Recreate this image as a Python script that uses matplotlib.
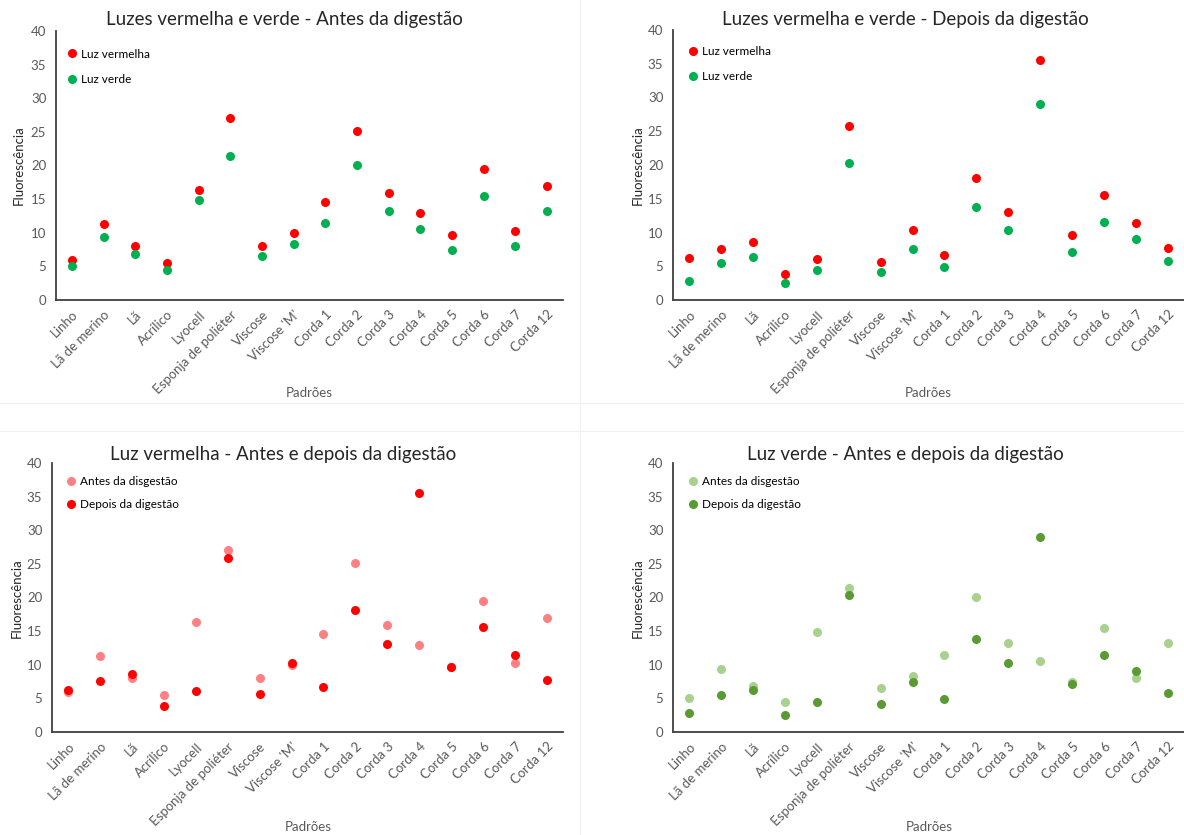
"""Fluorescência dos padrões - luzes vermelha e verde, antes e depois da digestão"""

import matplotlib
matplotlib.use('Agg')
import matplotlib.pyplot as plt
from matplotlib.lines import Line2D

plt.rcParams['font.family'] = ['Lato', 'DejaVu Sans']

# categorias (padrões)
padroes = ['Linho', 'Lã de merino', 'Lã', 'Acrílico', 'Lyocell', 'Esponja de poliéter',
           'Viscose', "Viscose 'M'", 'Corda 1', 'Corda 2', 'Corda 3', 'Corda 4',
           'Corda 5', 'Corda 6', 'Corda 7', 'Corda 12']

# antes da digestão
vermelha_antes = [5.9, 11.3, 8.1, 5.5, 16.4, 27.0, 8.1, 10.0, 14.5, 25.2, 15.9, 12.9, 9.7, 19.5, 10.2, 17.0]
verde_antes = [5.0, 9.4, 6.9, 4.5, 14.9, 21.4, 6.5, 8.4, 11.5, 20.1, 13.3, 10.6, 7.5, 15.5, 8.0, 13.3]

# depois da digestão
vermelha_depois = [6.2, 7.6, 8.6, 3.8, 6.1, 25.8, 5.6, 10.3, 6.7, 18.1, 13.1, 35.5, 9.6, 15.6, 11.4, 7.7]
verde_depois = [2.8, 5.5, 6.3, 2.5, 4.5, 20.3, 4.2, 7.5, 4.9, 13.8, 10.3, 29.0, 7.1, 11.5, 9.0, 5.8]

VERMELHO = '#FF0000'
VERDE = '#00B050'
VERMELHO_CLARO = '#FF8083'
VERDE_CLARO = '#A9D18E'
VERDE_ESCURO = '#5A9A34'
CINZA = '#595959'

W, H = 1184, 835
fig = plt.figure(figsize=(W / 100, H / 100), dpi=100)
fig.patch.set_facecolor('white')


def px_axes(left, top, right, bottom):
    """cria eixo a partir de coordenadas em pixels"""
    return fig.add_axes([left / W, 1 - bottom / H, (right - left) / W, (bottom - top) / H])


def estilo(ax, cx, ylabel_x, ylabel_y, xlabel_y):
    ax.set_xlim(-0.5, len(padroes) - 0.5)
    ax.set_ylim(0, 40)
    ax.set_yticks(range(0, 41, 5))
    ax.set_xticks(range(len(padroes)))
    ax.set_xticklabels(padroes, rotation=45, ha='right', rotation_mode='anchor',
                       fontsize=9.5, color=CINZA)
    ax.tick_params(axis='both', length=0, labelsize=9.5, labelcolor=CINZA)
    ax.tick_params(axis='x', pad=6)
    ax.tick_params(axis='y', pad=7)
    for s in ['top', 'right']:
        ax.spines[s].set_visible(False)
    for s in ['left', 'bottom']:
        ax.spines[s].set_color('#404040')
        ax.spines[s].set_linewidth(1.3)
    fig.text(ylabel_x / W, 1 - ylabel_y / H, 'Fluorescência', rotation=90,
             ha='center', va='center', fontsize=9.5, color='#262626')
    fig.text(cx / W, 1 - xlabel_y / H, 'Padrões', ha='center', va='center',
             fontsize=9.5, color=CINZA)


def legenda(ax, rotulos, cores, x0, y0, espaco):
    handles = [Line2D([], [], ls='none', marker='o', markersize=5.5, color=c) for c in cores]
    ax.legend(handles, rotulos, loc='upper left', bbox_to_anchor=(x0, y0),
              frameon=False, fontsize=8.5, handlelength=0.6, handletextpad=0.45,
              labelspacing=espaco, borderaxespad=0.4)


x = list(range(len(padroes)))
S = 30

# Luzes vermelha e verde - antes
ax1 = px_axes(56, 31, 563, 300)
ax1.scatter(x, vermelha_antes, s=S, color=VERMELHO, zorder=3)
ax1.scatter(x, verde_antes, s=S, color=VERDE, zorder=3)
estilo(ax1, 309, 19, 165, 393)
legenda(ax1, ['Luz vermelha', 'Luz verde'], [VERMELHO, VERDE], 0.006, 0.97, 1.2)
fig.text(284 / W, 1 - 20 / H, 'Luzes vermelha e verde - Antes da digestão',
         ha='center', va='center', fontsize=13.5, color='#262626')

# Luzes vermelha e verde - depois
ax2 = px_axes(673, 30, 1184, 300)
ax2.scatter(x, vermelha_depois, s=S, color=VERMELHO, zorder=3)
ax2.scatter(x, verde_depois, s=S, color=VERDE, zorder=3)
estilo(ax2, 928, 638, 165, 393)
legenda(ax2, ['Luz vermelha', 'Luz verde'], [VERMELHO, VERDE], 0.014, 0.975, 1.2)
fig.text(905 / W, 1 - 20 / H, 'Luzes vermelha e verde - Depois da digestão',
         ha='center', va='center', fontsize=13.5, color='#262626')

# Luz vermelha - antes e depois
ax3 = px_axes(52, 463, 563, 732)
ax3.scatter(x, vermelha_antes, s=S, color=VERMELHO_CLARO, zorder=3)
ax3.scatter(x, vermelha_depois, s=S, color=VERMELHO, zorder=4)
estilo(ax3, 308, 17, 598, 827)
legenda(ax3, ['Antes da disgestão', 'Depois da digestão'], [VERMELHO_CLARO, VERMELHO],
        0.012, 0.985, 1.0)
fig.text(283 / W, 1 - 454 / H, 'Luz vermelha - Antes e depois da digestão',
         ha='center', va='center', fontsize=13.5, color='#262626')

# Luz verde - antes e depois
ax4 = px_axes(673, 463, 1184, 732)
ax4.scatter(x, verde_antes, s=S, color=VERDE_CLARO, zorder=3)
ax4.scatter(x, verde_depois, s=S, color=VERDE_ESCURO, zorder=4)
estilo(ax4, 929, 638, 598, 827)
legenda(ax4, ['Antes da disgestão', 'Depois da digestão'], [VERDE_CLARO, VERDE_ESCURO],
        0.014, 0.985, 1.0)
fig.text(905 / W, 1 - 454 / H, 'Luz verde - Antes e depois da digestão',
         ha='center', va='center', fontsize=13.5, color='#262626')

# divisórias suaves entre os painéis
fig.add_artist(Line2D([0, 1], [1 - 403 / H] * 2, color='#F0F0F0', lw=0.8))
fig.add_artist(Line2D([0, 1], [1 - 431 / H] * 2, color='#F0F0F0', lw=0.8))
fig.add_artist(Line2D([580 / W] * 2, [0, 1], color='#F0F0F0', lw=0.8))

fig.savefig('out.png', dpi=100, facecolor='white')
